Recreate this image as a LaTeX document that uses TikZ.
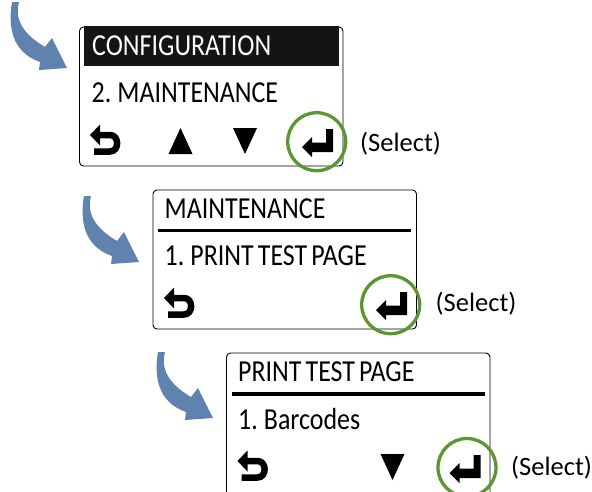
\documentclass[tikz,border=0pt]{standalone}
\usepackage{graphicx}
\usepackage{fontspec}
\setmainfont[WordSpace=0.7]{Carlito}
\definecolor{ringgreen}{HTML}{5B9632}
\definecolor{arrowblue}{HTML}{5F82AE}
\definecolor{bannerblack}{HTML}{141414}
\newcommand{\screentext}[1]{\fontsize{30.5}{30.5}\selectfont\scalebox{.85}[1]{#1}}
\tikzset{
  x=1pt,y=-1pt,
  screenbox/.style={draw=black,line width=.9pt,rounded corners=4pt},
  iconfill/.style={fill=black,draw=none},
  ring/.style={draw=ringgreen,line width=3.3pt,circle,minimum size=58pt,inner sep=0pt},
  labeltext/.style={anchor=base west,inner sep=0pt,text=black},
  selecttext/.style={anchor=base west,inner sep=0pt,font=\fontsize{26.5}{26.5}\selectfont,text=black}
}
\newcommand{\curvearrow}[2]{%
  \fill[arrowblue,shift={(#1,#2)}] (19,2) -- (12,2)
    .. controls (8,25) and (11,52) .. (40,62)
    -- (39,70) -- (67,68) -- (52,38) -- (45,47)
    .. controls (30,38) and (13,24) .. (19,2) -- cycle;}
\newcommand{\backicon}[2]{%
  \begin{scope}[shift={(#1,#2)}]
  \fill[iconfill] (90,135) -- (100,124.5) -- (100,145.5) -- cycle;
  \draw[black,line width=6.5pt,line join=round] (99,135) -- (110,135)
     .. controls (119.5,135) and (119.5,151.5) .. (110,151.5) -- (94,151.5);
  \end{scope}}
\newcommand{\entericon}[2]{%
  \fill[iconfill,shift={(#1,#2)}] (302,147) -- (312,137) -- (312,142.5) -- (326,142.5) -- (326,129)
     -- (333,129) -- (333,152) -- (312,152) -- (312,157) -- cycle;}
\newcommand{\uptri}[2]{\fill[iconfill,shift={(#1,#2)}] (168.5,154) -- (180.5,128) -- (192.5,154) -- cycle;}
\newcommand{\downtri}[2]{\fill[iconfill,shift={(#1,#2)}] (233,128) -- (257,128) -- (245,154) -- cycle;}
\begin{document}
\begin{tikzpicture}
\useasboundingbox (0,0) rectangle (592,491);
\clip (0,0) rectangle (592,491);
% arrows
\curvearrow{0}{0}
\curvearrow{72}{194}
\curvearrow{146}{350}
% screen 1
\draw[screenbox] (79.5,27) rectangle (343,166);
\fill[bannerblack] (84,26) rectangle (339,66);
\node[labeltext,text=white] (t1) at (92,55.5) {\screentext{CONFIGURATION}};
\node[labeltext] (m1) at (91.5,102) {\screentext{2. MAINTENANCE}};
\backicon{0}{0}
\uptri{0}{0}
\downtri{0}{0}
\entericon{0}{0}
\node[ring] (c1) at (316.7,141.7) {};
\node[selecttext] (s1) at (360,151) {(Select)};
% screen 2
\draw[screenbox] (153,190) rectangle (416.5,329);
\fill[black] (158,228.5) rectangle (411,232.3);
\node[labeltext] (t2) at (164.5,218.5) {\screentext{MAINTENANCE}};
\node[labeltext] (m2) at (164.5,265) {\screentext{1. PRINT TEST PAGE}};
\backicon{74}{163}
\entericon{74}{163}
\node[ring] (c2) at (390.7,304.7) {};
\node[selecttext] (s2) at (435.5,311) {(Select)};
% screen 3
\draw[screenbox] (226.5,353) rectangle (490,520);
\fill[black] (231.5,392) rectangle (484.5,395.5);
\node[labeltext] (t3) at (238,381.5) {\screentext{PRINT TEST PAGE}};
\node[labeltext] (m3) at (238,429) {\screentext{1. Barcodes}};
\backicon{147.5}{326}
\downtri{147.5}{326}
\entericon{147.5}{326}
\node[ring] (c3) at (467,467.5) {};
\node[selecttext] (s3) at (511,475) {(Select)};
\end{tikzpicture}
\end{document}
